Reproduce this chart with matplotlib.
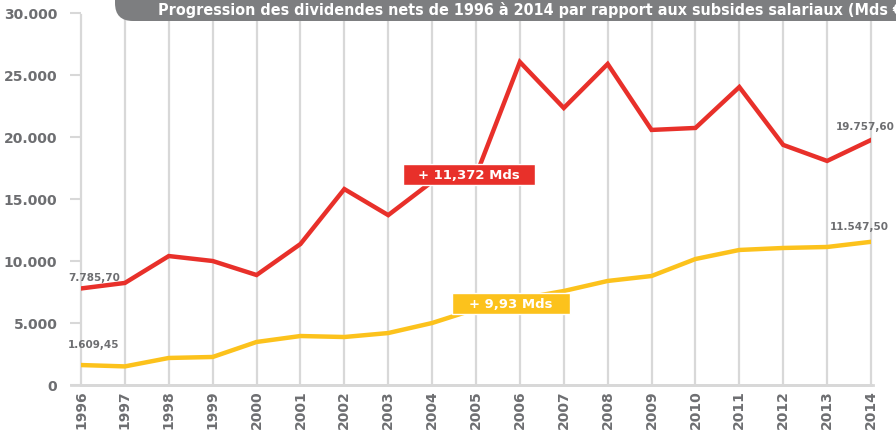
import matplotlib
matplotlib.use("Agg")
import matplotlib.pyplot as plt
from matplotlib.patches import FancyBboxPatch, Rectangle

years = list(range(1996, 2015))
dividendes = [7785.70, 8230, 10400, 10000, 8870, 11370, 15800, 13700, 16400, 16900,
              26050, 22340, 25890, 20570, 20730, 24030, 19360, 18070, 19757.60]
subsides = [1609.45, 1500, 2180, 2260, 3470, 3950, 3870, 4190, 5000, 6130,
            6950, 7580, 8390, 8790, 10160, 10890, 11050, 11130, 11547.50]
y_ticks = [0, 5000, 10000, 15000, 20000, 25000, 30000]
y_tick_labels = ["0", "5.000", "10.000", "15.000", "20.000", "25.000", "30.000"]
title = "Progression des dividendes nets de 1996 à 2014 par rapport aux subsides salariaux (Mds €)"
red_label = "+ 11,372 Mds"
yellow_label = "+ 9,93 Mds"

RED = "#e8302a"
YEL = "#fcc21c"
GREY = "#6d6e71"
GRID = "#d8d8d8"
W, H = 896, 431

fig = plt.figure(figsize=(W / 100, H / 100), dpi=100)
ax = fig.add_axes([81 / W, (H - 386) / H, (871 - 81) / W, (386 - 14) / H])
ax.set_xlim(1996, 2014)
ax.set_ylim(0, 30000)

for yr in years:
    ax.plot([yr, yr], [0, 29800], color=GRID, lw=1.6, zorder=1, clip_on=False)

ax.plot(years, dividendes, color=RED, lw=3.2, zorder=3, solid_joinstyle="miter")
ax.plot(years, subsides, color=YEL, lw=3.2, zorder=3, solid_joinstyle="miter")

for s in ["top", "right", "left"]:
    ax.spines[s].set_visible(False)
ax.spines["bottom"].set_color(GRID)
ax.spines["bottom"].set_linewidth(2)
ax.spines["bottom"].set_zorder(2)
ax.plot([1995.77, 2014.05], [0, 0], color=GRID, lw=2, clip_on=False, zorder=2)

ax.set_yticks(y_ticks)
ax.set_yticklabels(y_tick_labels)
ax.tick_params(axis="y", length=8, width=1.5, color=GRID, pad=9,
               labelsize=10, labelcolor=GREY)
ax.set_xticks(years)
ax.set_xticklabels([str(y) for y in years], rotation=90)
ax.tick_params(axis="x", length=0, pad=3, labelsize=10, labelcolor=GREY)
for lab in ax.get_yticklabels() + ax.get_xticklabels():
    lab.set_fontweight("bold")

# data labels
lab_kw = dict(fontsize=7.5, color=GREY, fontweight="bold", va="center")
ax.text(1996 - 0.3, dividendes[0] + 900, "7.785,70", ha="left", **lab_kw)
ax.text(1996 - 0.3, subsides[0] + 1700, "1.609,45", ha="left", **lab_kw)
ax.text(2014 + 0.53, dividendes[-1] + 1150, "19.757,60", ha="right", **lab_kw)
ax.text(2014 + 0.41, subsides[-1] + 1300, "11.547,50", ha="right", **lab_kw)

# annotation boxes (figure pixel coordinates)
def fig_box(x0, y0, x1, y1, color, text):
    fig.patches.append(Rectangle((x0 / W, 1 - y1 / H), (x1 - x0) / W, (y1 - y0) / H,
                                 transform=fig.transFigure, facecolor=color,
                                 edgecolor="white", lw=1.0, zorder=5))
    fig.text((x0 + x1) / 2 / W, 1 - (y0 + y1) / 2 / H, text, color="white",
             fontsize=9.5, fontweight="bold", ha="center", va="center", zorder=6)

fig_box(403, 165, 535, 186, RED, red_label)
fig_box(452, 294, 570, 315, YEL, yellow_label)

# title bar
fig.patches.append(FancyBboxPatch((115 / W, 1 - 22 / H), 900 / W, 40 / H,
                                  boxstyle="round,pad=0,rounding_size=0.02",
                                  transform=fig.transFigure, facecolor="#7d7e80",
                                  edgecolor="none", zorder=4, mutation_aspect=W / H))
fig.text(158 / W, 1 - 10 / H, title, color="white", fontsize=11.5, fontweight="bold",
         family=["Liberation Sans Narrow", "DejaVu Sans"], fontstretch="condensed",
         ha="left", va="center", zorder=6)

fig.savefig("out.png", dpi=100)
